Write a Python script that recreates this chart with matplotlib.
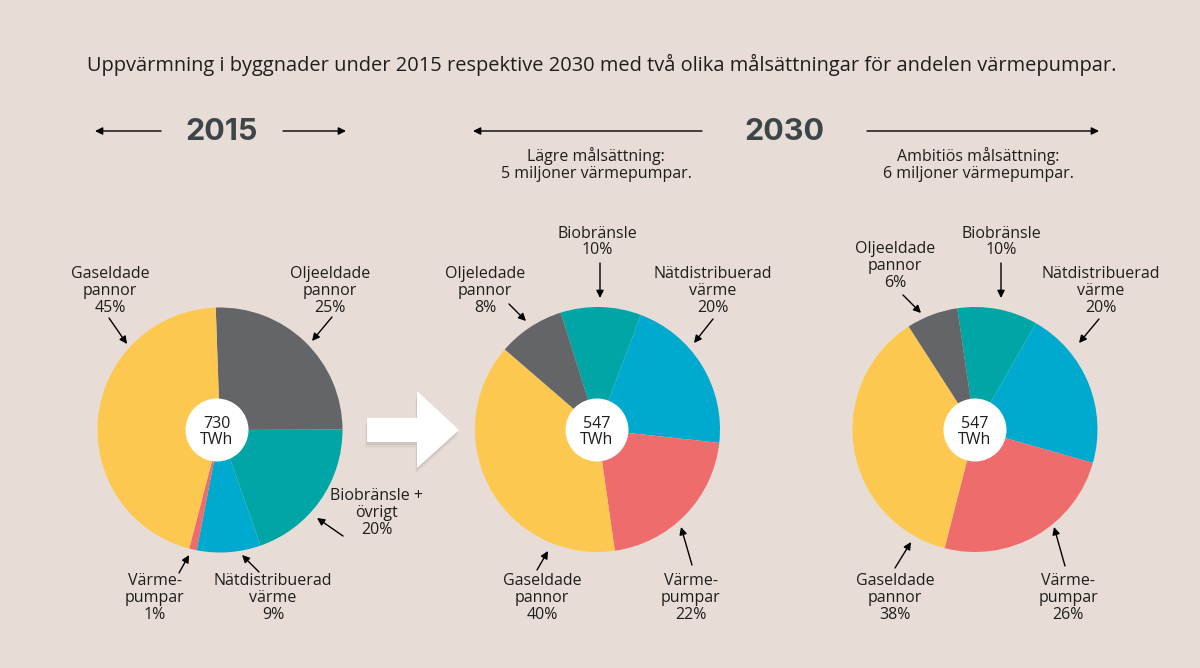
#!/usr/bin/env python3
import matplotlib
matplotlib.use("Agg")
import matplotlib.pyplot as plt
import matplotlib.patheffects as pe
from matplotlib.patches import Circle, Polygon

plt.rcParams["font.family"] = ["Open Sans", "DejaVu Sans"]

BG = "#E8DCD6"
INK = "#1E1E1E"
HEAD = "#3C4648"
YELLOW = "#FDC84F"
GRAY = "#636569"
TEAL = "#00A5A5"
BLUE = "#00A9CE"
RED = "#EF6C6D"
W, H = 1200, 668

# shares, clockwise from the first wedge.
# the printed percentages are rounder than what the original actually drew
shares_2015 = [25.5, 19.7, 8.4, 1.0, 45.4]
colors_2015 = [GRAY, TEAL, BLUE, RED, YELLOW]
shares_low = [10.6, 21.0, 21.0, 38.6, 8.8]
shares_high = [10.6, 21.1, 24.6, 36.9, 6.8]
colors_2030 = [TEAL, BLUE, RED, YELLOW, GRAY]

fig = plt.figure(figsize=(W / 100, H / 100), dpi=100, facecolor=BG)


def draw_pie(vals, colors, cx, cy, r, start):
    ax = fig.add_axes([(cx - r) / W, 1 - (cy + r) / H, 2 * r / W, 2 * r / H])
    ax.pie(vals, colors=colors, startangle=start, counterclock=False, radius=1,
           wedgeprops=dict(linewidth=0))
    ax.set_xlim(-1, 1)
    ax.set_ylim(-1, 1)
    ax.axis("off")


draw_pie(shares_2015, colors_2015, 220, 430, 122.5, 92)
draw_pie(shares_low, colors_2030, 597.5, 429.5, 122.5, 107.5)
draw_pie(shares_high, colors_2030, 975, 429.5, 122.5, 98.3)

# overlay in pixel coordinates for the text and arrows
ov = fig.add_axes([0, 0, 1, 1], zorder=5)
ov.set_xlim(0, W)
ov.set_ylim(H, 0)
ov.axis("off")


def label(x, y, s, size=11.5):
    ov.text(x, y + 2, s, ha="center", va="center", fontsize=size, color=INK, linespacing=1.08)


def arrow(x0, y0, x1, y1, scale=11):
    ov.annotate("", xy=(x1, y1), xytext=(x0, y0),
                arrowprops=dict(arrowstyle="-|>", color="black", lw=1, mutation_scale=scale,
                                shrinkA=0, shrinkB=0))


label(601.5, 63, "Uppvärmning i byggnader under 2015 respektive 2030 med två olika målsättningar för andelen värmepumpar.", 14.4)

for x, year in [(222, "2015"), (784, "2030")]:
    ov.text(x, 132.5, year, ha="center", va="center", fontsize=22, fontweight="bold",
            color=HEAD, family=["Inter", "DejaVu Sans"])
arrow(161, 131, 95, 131)
arrow(283, 131, 346, 131)
arrow(702, 131, 473, 131)
arrow(867, 131, 1099, 131)

label(596, 162.5, "Lägre målsättning:\n5 miljoner värmepumpar.")
label(978, 162.5, "Ambitiös målsättning:\n6 miljoner värmepumpar.")

# white block arrow between 2015 and 2030
block = Polygon([(367, 418), (417, 418), (417, 391), (459, 430), (417, 468), (417, 442), (367, 442)],
                closed=True, facecolor="white", edgecolor="none",
                path_effects=[pe.SimplePatchShadow(offset=(-1, -4), shadow_rgbFace="#B9AEA9", alpha=0.25),
                              pe.SimplePatchShadow(offset=(-0.5, -2), shadow_rgbFace="#B9AEA9", alpha=0.35),
                              pe.Normal()])
ov.add_patch(block)

# centre holes
for cx, cy, txt in [(217, 430, "730\nTWh"), (597, 430, "547\nTWh"), (975, 430, "547\nTWh")]:
    ov.add_patch(Circle((cx, cy), 31.5, facecolor="white", edgecolor="none"))
    label(cx, cy, txt)

# 2015 labels
label(110, 289, "Gaseldade\npannor\n45%")
label(330, 289, "Oljeeldade\npannor\n25%")
label(377, 511, "Biobränsle +\növrigt\n20%")
label(155, 596, "Värme-\npumpar\n1%")
label(273, 596, "Nätdistribuerad\nvärme\n9%")
arrow(109, 318, 127, 344)
arrow(332, 317, 312, 341)
arrow(343, 536, 317, 518)
arrow(259, 572, 242, 555)
arrow(179, 573, 189, 555)

# 2030, lower target
label(597, 240, "Biobränsle\n10%")
label(485, 289, "Oljeledade\npannor\n8%")
label(713, 289, "Nätdistribuerad\nvärme\n20%")
label(542, 596, "Gaseldade\npannor\n40%")
label(691, 596, "Värme-\npumpar\n22%")
arrow(600, 263, 600, 298)
arrow(509, 304, 526, 321)
arrow(713, 319, 694, 343)
arrow(537, 570, 548, 551)
arrow(692, 565, 681, 527)

# 2030, higher target
label(1001, 240, "Biobränsle\n10%")
label(895, 264, "Oljeeldade\npannor\n6%")
label(1101, 289, "Nätdistribuerad\nvärme\n20%")
label(895, 596, "Gaseldade\npannor\n38%")
label(1068, 596, "Värme-\npumpar\n26%")
arrow(1001, 263, 1001, 298)
arrow(903, 295, 921, 313)
arrow(1099, 319, 1079, 343)
arrow(895, 568, 911, 542)
arrow(1065, 566, 1054, 527)

fig.savefig("out.png", dpi=100, facecolor=BG)
